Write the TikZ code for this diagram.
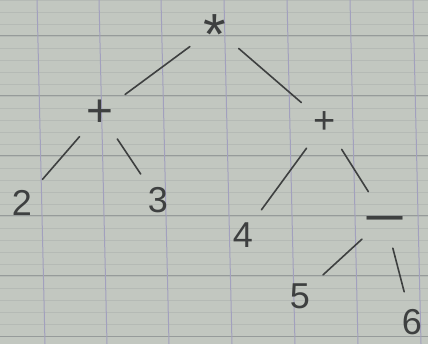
\documentclass[tikz,border=0pt]{standalone}
\usepackage{fontspec}
\setmainfont{Liberation Sans}
\usepackage{graphicx}
\usepackage{tikz}
\usetikzlibrary{positioning}

\definecolor{paper}{RGB}{194,199,192}
\definecolor{minorline}{RGB}{181,186,181}
\definecolor{majorline}{RGB}{150,155,154}
\definecolor{vline}{RGB}{162,160,190}
\definecolor{pencil}{RGB}{62,64,64}

\begin{document}
\begin{tikzpicture}[x=1pt,y=-1pt,
  sym/.style={circle,minimum size=62pt,inner sep=0pt,text=pencil,font=\fontsize{36}{36}\selectfont},
  op/.style={sym,font=\fontsize{46}{46}\selectfont},
  twig/.style={pencil,line width=1.6pt,line cap=round}]
  \useasboundingbox (0,0) rectangle (428,344);
  % squared paper
  \fill[paper] (0,0) rectangle (428,344);
  \foreach \y in {0,12,...,344}
    \draw[minorline,line width=0.6pt] (0,\y) -- (428,\y);
  \foreach \y in {36,96,156,216,276,336}
    \draw[majorline,line width=1pt] (0,\y) -- (428,\y);
  \foreach \x in {37,99,161,224,287,350,413}
    \draw[vline,line width=1pt] (\x,0) -- (\x+8,344);
  % the tree
  \node[op] (times) at (215,28) {\raisebox{-0.57em}[0pt][0pt]{\fontsize{58}{58}\selectfont *}};
  \node[op] (plusL) at (100,113) {+};
  \node[op] (plusR) at (325,123) {\fontsize{38}{38}\selectfont +};
  \node[sym] (two) at (22,203) {2};
  \node[sym] (three) at (158,200) {3};
  \node[sym] (four) at (243,235) {4};
  \node[op] (minus) at (385,218) {\raisebox{-0.27em}[0pt][0pt]{\scalebox{3.2}[1.0]{-}}};
  \node[sym] (five) at (300,296) {5};
  \node[sym] (six) at (412,322) {6};
  \draw[twig] (times) -- (plusL);
  \draw[twig] (times) -- (plusR);
  \draw[twig] (plusL) -- (two);
  \draw[twig] (plusL) -- (three);
  \draw[twig] (plusR) -- (four);
  \draw[twig] (plusR) -- (minus);
  \draw[twig] (minus) -- (five);
  \draw[twig] (minus) -- (six);
\end{tikzpicture}
\end{document}
